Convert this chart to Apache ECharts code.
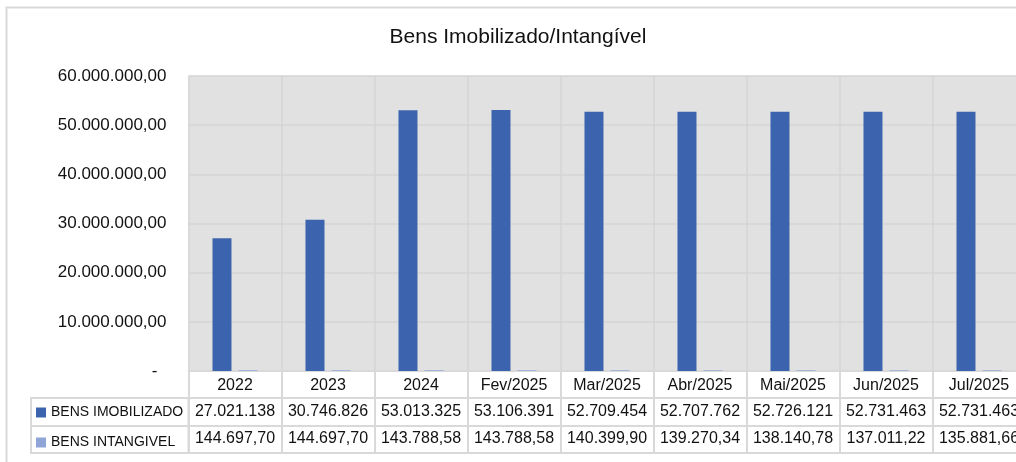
<!DOCTYPE html>
<html>
<head>
<meta charset="utf-8">
<script src="https://cdn.jsdelivr.net/npm/echarts@6/dist/echarts.min.js"></script>
<style>
html,body{margin:0;padding:0;background:#fff;overflow:hidden;}
#c{width:1040px;height:462px;}
</style>
</head>
<body>
<div id="c"></div>
<script>
const categories = ['2022','2023','2024','Fev/2025','Mar/2025','Abr/2025','Mai/2025','Jun/2025','Jul/2025'];
const seriesNames = ['BENS IMOBILIZADO','BENS INTANGIVEL'];
const bensImobilizado = [27021138, 30746826, 53013325, 53106391, 52709454, 52707762, 52726121, 52731463, 52731463];
const bensIntangivel = [144697.70, 144697.70, 143788.58, 143788.58, 140399.90, 139270.34, 138140.78, 137011.22, 135881.66];
const yTicks = [0, 10000000, 20000000, 30000000, 40000000, 50000000, 60000000];
const titleText = 'Bens Imobilizado/Intangível';

function groupThousands(s){ return s.replace(/\B(?=(\d{3})+(?!\d))/g, '.'); }
function fmtInt(v){ return groupThousands(String(Math.round(v))); }
function fmtDec(v){ const p = v.toFixed(2).split('.'); return groupThousands(p[0]) + ',' + p[1]; }

const FONT = 'Liberation Sans';
const TXT = '#111';
const BORDER = '#d9d9d9';

const chart = echarts.init(document.getElementById('c'), null, {renderer:'canvas'});

function tableAxis(offset, labels, margin){
  return {
    type:'category', gridIndex:0, position:'bottom', offset:offset,
    data: categories,
    axisLine:{show:true, onZero:false, lineStyle:{color:BORDER, width:2}},
    axisTick:{show:false},
    splitLine:{show:false},
    axisLabel: labels ? {show:true, interval:0, margin:margin, fontFamily:FONT, fontSize:16, color:TXT,
      formatter:function(v, i){ return labels[i]; }} : {show:false}
  };
}

chart.setOption({
  animation:false,
  backgroundColor:'#fff',
  textStyle:{fontFamily:FONT},
  title:{
    text:titleText, left:518, top:27, textAlign:'center', padding:0,
    textStyle:{fontFamily:FONT, fontSize:21, fontWeight:'normal', color:TXT}
  },
  legend:{
    orient:'vertical', left:36, top:405.5, padding:0, itemGap:16,
    itemWidth:10, itemHeight:10, icon:'rect', selectedMode:false,
    textStyle:{fontFamily:FONT, fontSize:14, color:TXT, padding:[0,0,0,0]},
    data: seriesNames
  },
  grid:{
    left:188.5, top:76, width:837, bottom:91,
    show:true, backgroundColor:'#e1e1e1', borderWidth:0
  },
  xAxis:[
    {
      type:'category', gridIndex:0, position:'bottom', offset:0,
      data: categories,
      axisLine:{show:true, onZero:false, lineStyle:{color:BORDER, width:2}},
      axisTick:{show:true, interval:0, length:82, lineStyle:{color:BORDER, width:2}},
      splitLine:{show:true, interval:0, lineStyle:{color:'#d5d5d5', width:1.5}},
      axisLabel:{show:true, interval:0, margin:6.5, fontFamily:FONT, fontSize:16, color:TXT}
    },
    tableAxis(27, bensImobilizado.map(fmtInt), 5.5),
    tableAxis(55, bensIntangivel.map(fmtDec), 4.5),
    tableAxis(82, null, 0)
  ],
  yAxis:{
    type:'value', min:yTicks[0], max:yTicks[yTicks.length-1], interval:yTicks[1]-yTicks[0],
    axisLine:{show:false}, axisTick:{show:false},
    splitLine:{show:true, lineStyle:{color:'#d5d5d5', width:1.5}},
    axisLabel:{
      margin:22, fontFamily:FONT, fontSize:17, color:TXT,
      formatter:function(v){ return v === 0 ? '{z|-}' : fmtInt(v) + ',00'; },
      rich:{z:{fontFamily:FONT, fontSize:17, color:TXT, padding:[0,9,0,0]}}
    }
  },
  series:[
    {name:seriesNames[0], type:'bar', xAxisIndex:0, data:bensImobilizado, barWidth:19, barGap:'37%',
     itemStyle:{color:'#3c63ad'}},
    {name:seriesNames[1], type:'bar', xAxisIndex:0, data:bensIntangivel, barWidth:19, barGap:'37%',
     itemStyle:{color:'#8fa5d8'}}
  ],
  graphic:[
    {type:'rect', silent:true, z:-1, shape:{x:6.5, y:7.5, width:1100, height:600},
     style:{fill:'none', stroke:BORDER, lineWidth:2}},
    {type:'rect', silent:true, shape:{x:31, y:398, width:157.5, height:55},
     style:{fill:'none', stroke:BORDER, lineWidth:2}},
    {type:'line', silent:true, shape:{x1:31, y1:426, x2:188.5, y2:426},
     style:{stroke:BORDER, lineWidth:2}}
  ]
});
</script>
</body>
</html>
